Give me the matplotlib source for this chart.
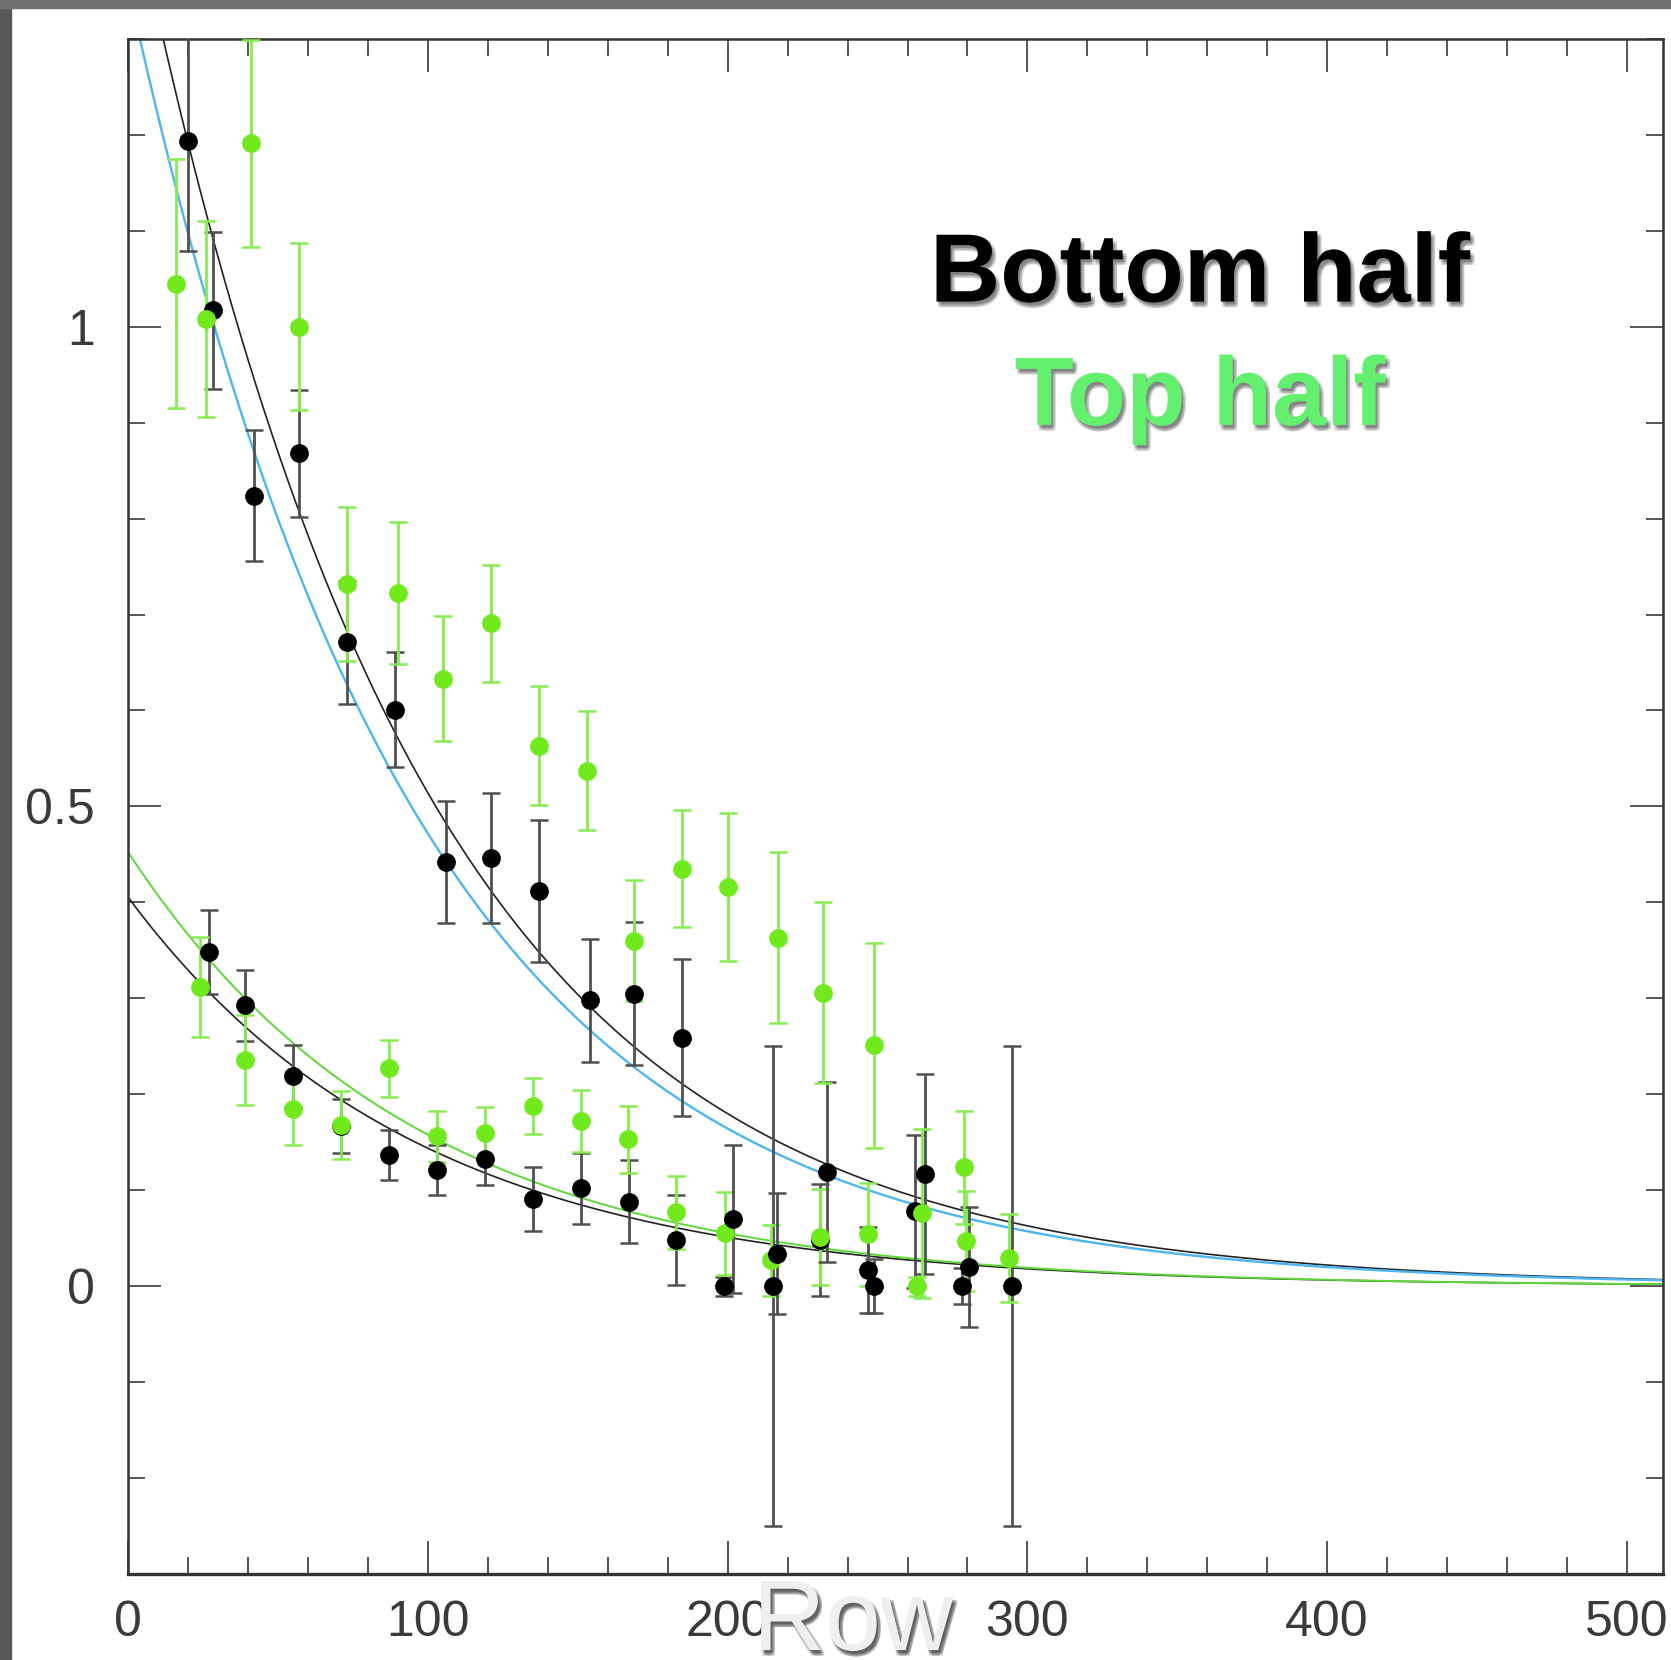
import numpy as np
import matplotlib.pyplot as plt
import matplotlib.patheffects as pe
from matplotlib.patches import Rectangle
from matplotlib.ticker import MultipleLocator

# first profile, bottom half (black, upper set)
bot_a_row = [19.8, 28.3, 41.9, 56.8, 72.8, 89.0, 106.0, 120.9, 137.1, 153.9, 168.8, 184.9,
             201.8, 216.6, 233.0, 246.9, 265.8, 280.5]
bot_a_val = [1.194, 1.017, 0.824, 0.868, 0.671, 0.601, 0.442, 0.446, 0.412, 0.298, 0.305, 0.259,
             0.070, 0.034, 0.119, 0.017, 0.117, 0.020]
bot_a_err = [0.115, 0.082, 0.068, 0.066, 0.064, 0.060, 0.064, 0.068, 0.074, 0.064, 0.075, 0.082,
             0.077, 0.063, 0.094, 0.045, 0.104, 0.063]

# first profile, top half (green, upper set)
top_a_row = [15.9, 25.9, 40.9, 56.8, 72.8, 89.9, 104.9, 120.9, 137.0, 152.9, 168.8, 184.9,
             200.0, 216.9, 231.9, 248.8, 265.0, 279.0]
top_a_val = [1.045, 1.008, 1.191, 1.000, 0.732, 0.722, 0.633, 0.691, 0.563, 0.537, 0.360, 0.435,
             0.416, 0.363, 0.306, 0.251, 0.076, 0.124]
top_a_err = [0.130, 0.102, 0.108, 0.087, 0.080, 0.074, 0.065, 0.061, 0.062, 0.062, 0.063, 0.061,
             0.077, 0.089, 0.094, 0.107, 0.088, 0.059]

# second profile, bottom half (black, lower set)
bot_b_row = [27.0, 38.9, 55.0, 70.8, 87.1, 102.9, 119.0, 134.9, 150.9, 167.0, 182.9, 198.8,
             215.0, 230.8, 248.7, 262.5, 278.3, 295.0]
bot_b_val = [0.348, 0.293, 0.219, 0.167, 0.137, 0.121, 0.133, 0.091, 0.102, 0.088, 0.048, 0.0,
             0.0, 0.048, 0.0, 0.078, 0.0, 0.0]
bot_b_err = [0.044, 0.037, 0.032, 0.028, 0.026, 0.026, 0.028, 0.033, 0.037, 0.043, 0.047, 0.010,
             0.250, 0.058, 0.028, 0.080, 0.019, 0.250]

# second profile, top half (green, lower set)
top_b_row = [23.9, 38.9, 55.0, 70.8, 87.1, 102.9, 119.0, 134.9, 150.9, 166.8, 182.9, 199.0,
             214.6, 230.8, 246.9, 263.0, 279.6, 294.0]
top_b_val = [0.312, 0.236, 0.185, 0.168, 0.227, 0.156, 0.160, 0.188, 0.172, 0.153, 0.077, 0.055,
             0.027, 0.051, 0.054, 0.0, 0.047, 0.029]
top_b_err = [0.052, 0.047, 0.038, 0.035, 0.030, 0.027, 0.027, 0.029, 0.032, 0.035, 0.038, 0.043,
             0.037, 0.050, 0.054, 0.010, 0.052, 0.046]

# exponential fits: (amplitude, scale length in rows)
fit_bot_a = (1.469, 95.2)
fit_top_a = (1.354, 94.8)
fit_bot_b = (0.405, 96.5)
fit_top_b = (0.452, 95.0)

xtick_vals = [0, 100, 200, 300, 400, 500]
xtick_labels = ['0', '100', '200', '300', '400', '500']
ytick_vals = [0, 0.5, 1]
ytick_labels = ['0', '0.5', '1']

BLACK = '#000000'
BLACK_BAR = '#505050'
GREEN = '#70EA1C'
GREEN_BAR = '#86EC52'

fig = plt.figure(figsize=(16.71, 16.60), dpi=100)
fig.patch.set_facecolor('white')
ax = fig.add_axes([0.0768, 0.0518, 0.9186, 0.9248])

xs = np.linspace(0, 520, 800)
ax.plot(xs, fit_bot_a[0] * np.exp(-xs / fit_bot_a[1]), color='#222222', lw=1.2, zorder=2)
ax.plot(xs, fit_top_a[0] * np.exp(-xs / fit_top_a[1]), color='#4DB6F2', lw=1.7, zorder=2)
ax.plot(xs, fit_bot_b[0] * np.exp(-xs / fit_bot_b[1]), color='#222222', lw=1.2, zorder=2)
ax.plot(xs, fit_top_b[0] * np.exp(-xs / fit_top_b[1]), color='#5FD83A', lw=1.4, zorder=2)

common = dict(fmt='o', ms=12.5, elinewidth=2.0, capsize=6.5, capthick=1.8, zorder=3)
ax.errorbar(bot_b_row, bot_b_val, yerr=bot_b_err, color=BLACK, ecolor=BLACK_BAR, **common)
ax.errorbar(top_b_row, top_b_val, yerr=top_b_err, color=GREEN, ecolor=GREEN_BAR, **common)
ax.errorbar(bot_a_row, bot_a_val, yerr=bot_a_err, color=BLACK, ecolor=BLACK_BAR, **common)
ax.errorbar(top_a_row, top_a_val, yerr=top_a_err, color=GREEN, ecolor=GREEN_BAR, **common)

ax.set_xlim(0, 512.2)
ax.set_ylim(-0.3, 1.3)
ax.set_xticks(xtick_vals, labels=xtick_labels)
ax.set_yticks(ytick_vals, labels=ytick_labels)
ax.xaxis.set_minor_locator(MultipleLocator(20))
ax.yaxis.set_minor_locator(MultipleLocator(0.1))
ax.tick_params(which='both', direction='in', top=True, right=True, color='#555555', width=1.4)
ax.tick_params(which='major', length=24)
ax.tick_params(which='minor', length=12)
ax.tick_params(axis='x', which='major', pad=19, labelsize=36, labelcolor='#3a3a3a')
ax.tick_params(axis='y', which='major', pad=24, labelsize=36, labelcolor='#3a3a3a')
for lab in ax.get_xticklabels() + ax.get_yticklabels():
    lab.set_family(['Liberation Sans', 'DejaVu Sans'])
for side, sp in ax.spines.items():
    sp.set_color('#333333')
    sp.set_linewidth(1.8)
ax.spines['bottom'].set_linewidth(2.4)


def soft_shadow(color, dx, dy, alpha):
    # a few stacked offsets to fake a blurred drop shadow
    fx = [pe.SimplePatchShadow(offset=(dx + ox, dy + oy), shadow_rgbFace=color, alpha=alpha)
          for ox, oy in [(0, 0), (1, -1), (-1, 1), (1, 1), (-1, -1)]]
    return fx + [pe.Normal()]


fig.text(0.7181, 0.8183, 'Bottom half', ha='center', va='baseline', fontsize=70,
         family=['Liberation Sans', 'DejaVu Sans'], fontweight='bold', color='black',
         path_effects=soft_shadow('black', 2, -3, 0.12))
fig.text(0.7181, 0.7440, 'Top half', ha='center', va='baseline', fontsize=70,
         family=['Liberation Sans', 'DejaVu Sans'], fontweight='bold', color='#63F06E',
         path_effects=soft_shadow('black', 2, -3, 0.12))
fig.text(0.5105, 0.006, 'Row', ha='center', va='baseline', fontsize=72,
         family=['Liberation Sans', 'DejaVu Sans'], color='#EFEFEF',
         path_effects=soft_shadow('#333333', 2, -3, 0.25))

# slide frame edges
fig.add_artist(Rectangle((0, 0), 11 / 1671, 1, transform=fig.transFigure,
                         color='#585858', zorder=10))
fig.add_artist(Rectangle((0, 1 - 8 / 1660), 1, 8 / 1660, transform=fig.transFigure,
                         color='#707070', zorder=10))

fig.savefig('out.png', dpi=100)
